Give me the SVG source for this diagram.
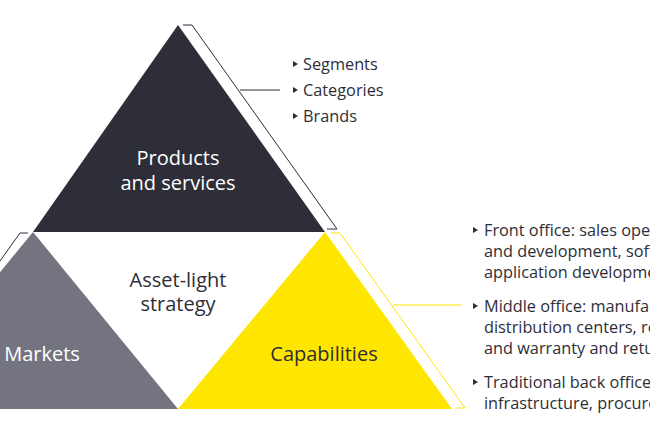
<svg xmlns="http://www.w3.org/2000/svg" width="650" height="434" viewBox="0 0 650 434">
<defs><polygon id="b" points="0,-4 5,-1 0,2" fill="#2e2e38"/></defs>
<style>
text{font-family:"Open Sans","Noto Sans","Liberation Sans",sans-serif;}
.lbl{font-size:20px;text-anchor:middle;}
.bt{font-size:16.3px;fill:#2e2e38;}
.bl{stroke:#2e2e38;stroke-width:1;fill:none;}
.yl{stroke:#ffe600;stroke-width:1;fill:none;}
</style>
<rect width="650" height="434" fill="#fff"/>
<g id="products"><polygon points="178,25 325,232 33,232" fill="#2e2e38"/>
<text class="lbl" x="178" y="165" fill="#fff">Products</text><text class="lbl" x="178" y="190" fill="#fff">and services</text></g>
<g id="markets"><polygon points="33,232 178,409 -112,409" fill="#747480"/>
<text class="lbl" x="42" y="361" fill="#fff">Markets</text></g>
<g id="capabilities"><polygon points="325,232 452,409 178,409" fill="#ffe600"/>
<text class="lbl" x="324" y="361" fill="#2e2e38">Capabilities</text></g>
<g id="strategy"><text class="lbl" x="178" y="287" fill="#2e2e38">Asset-light</text><text class="lbl" x="178" y="311" fill="#2e2e38">strategy</text></g>
<g id="connectors">
<polyline class="bl" points="183,25 192,25 337,229 327,229"/>
<line class="bl" x1="240" y1="90" x2="280" y2="90"/>
<polyline class="yl" points="331,233 340,233 465,408 455,408"/>
<line class="yl" x1="393" y1="305" x2="461" y2="305"/>
<polyline class="bl" points="28,233 20,233 -10,275"/>
</g>
<g id="list1" class="bt">
<use href="#b" x="293" y="65"/><use href="#b" x="293" y="91"/><use href="#b" x="293" y="117"/>
<text x="303" y="70">Segments</text>
<text x="303" y="96">Categories</text>
<text x="303" y="122">Brands</text>
</g>
<g id="list2" class="bt">
<use href="#b" x="473" y="231"/><use href="#b" x="473" y="307"/><use href="#b" x="473" y="383"/>
<text x="484" y="236">Front office: sales operations, research</text>
<text x="484" y="257">and development, software and</text>
<text x="484" y="278">application development</text>
<text x="484" y="312">Middle office: manufacturing,</text>
<text x="484" y="333">distribution centers, repair</text>
<text x="484" y="354">and warranty and returns</text>
<text x="484" y="388">Traditional back office: IT</text>
<text x="484" y="409">infrastructure, procurement</text>
</g>
</svg>
